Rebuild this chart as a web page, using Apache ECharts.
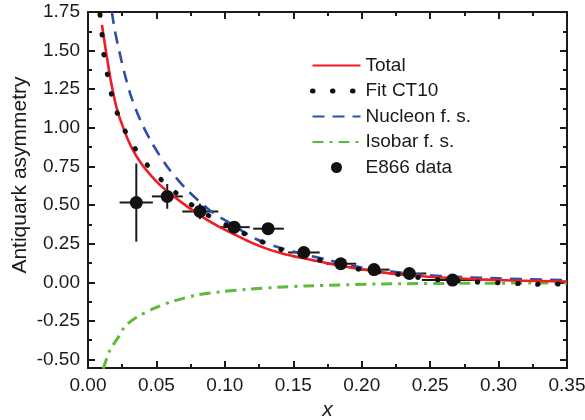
<!DOCTYPE html>
<html>
<head>
<meta charset="utf-8">
<script src="https://cdn.jsdelivr.net/npm/echarts@6/dist/echarts.min.js"></script>
<style>
  html, body { margin: 0; padding: 0; background: #fff; }
  #chart { width: 585px; height: 420px; }
</style>
</head>
<body>
<div id="chart"></div>
<script>
// Total asymmetry (solid red)
const totalX = [0.0102, 0.0122, 0.0141, 0.0170, 0.0207, 0.0255, 0.0316, 0.0389, 0.0487, 0.0574, 0.0696, 0.0818, 0.0940, 0.1061, 0.1182, 0.1304, 0.1426, 0.1547, 0.1669, 0.1888, 0.2131, 0.2374, 0.2618, 0.2861, 0.3104, 0.35];
const totalY = [1.667, 1.548, 1.440, 1.288, 1.136, 1.006, 0.877, 0.769, 0.665, 0.592, 0.509, 0.433, 0.368, 0.314, 0.262, 0.218, 0.185, 0.160, 0.138, 0.100, 0.066, 0.044, 0.029, 0.019, 0.012, 0.005];

// CT10 fit (dotted black)
const ct10X = [0.0088, 0.0102, 0.0114, 0.0138, 0.0166, 0.0206, 0.0262, 0.0341, 0.0443, 0.0575, 0.0713, 0.0850, 0.0988, 0.1134, 0.1267, 0.1413, 0.1560, 0.1720, 0.1966, 0.2239, 0.2509, 0.2788, 0.3000, 0.3200, 0.3336, 0.35];
const ct10Y = [1.732, 1.608, 1.487, 1.363, 1.237, 1.115, 0.995, 0.870, 0.749, 0.631, 0.530, 0.448, 0.381, 0.318, 0.264, 0.212, 0.176, 0.138, 0.087, 0.055, 0.020, 0.005, -0.003, -0.010, -0.013, -0.010];

// Nucleon final state (dashed blue)
const nucleonX = [0.0175, 0.0195, 0.0231, 0.0267, 0.0316, 0.0382, 0.0467, 0.0578, 0.0715, 0.0895, 0.1029, 0.1224, 0.1391, 0.1560, 0.1730, 0.2000, 0.2500, 0.3000, 0.35];
const nucleonY = [1.750, 1.634, 1.487, 1.353, 1.201, 1.050, 0.903, 0.750, 0.606, 0.462, 0.388, 0.282, 0.227, 0.185, 0.150, 0.096, 0.045, 0.025, 0.013];

// Isobar final state (dash-dot green)
const isobarX = [0.0112, 0.0160, 0.0221, 0.0270, 0.0355, 0.0500, 0.0635, 0.0794, 0.0964, 0.1160, 0.1377, 0.1596, 0.2130, 0.2860, 0.35];
const isobarY = [-0.560, -0.440, -0.357, -0.286, -0.227, -0.162, -0.119, -0.083, -0.062, -0.046, -0.033, -0.024, -0.011, -0.006, -0.005];

// E866 measurements
const e866X = [0.0353, 0.0579, 0.0818, 0.1068, 0.1316, 0.1577, 0.1847, 0.2090, 0.2348, 0.2664];
const e866Y = [0.516, 0.556, 0.459, 0.357, 0.347, 0.193, 0.120, 0.082, 0.057, 0.014];
const e866XLow = [0.0231, 0.0467, 0.0689, 0.0956, 0.1207, 0.1462, 0.1740, 0.1985, 0.2204, 0.2440];
const e866XHigh = [0.0474, 0.0693, 0.0952, 0.1182, 0.1431, 0.1693, 0.1960, 0.2204, 0.2472, 0.2880];
const e866YErr = [0.253, 0.080, 0.050, 0.030, 0.020, 0.015, 0.012, 0.010, 0.010, 0.010];

// Axis ticks
const yMajorTicks = [-0.5, -0.25, 0, 0.25, 0.5, 0.75, 1.0, 1.25, 1.5, 1.75];
const yMinorTicks = [-0.375, -0.125, 0.125, 0.375, 0.625, 0.875, 1.125, 1.375, 1.625];

const FONT = 'Liberation Sans, Arial, Helvetica, sans-serif';
const INK = '#1a1a1a';
const zip = (xs, ys) => xs.map((x, i) => [x, ys[i]]);

const chart = echarts.init(document.getElementById('chart'), null, { renderer: 'canvas' });

const frameLine = { show: true, onZero: false, lineStyle: { color: INK, width: 2 } };
const majorTick = { show: true, inside: true, length: 7, lineStyle: { color: INK, width: 2 } };
const minorTick = { show: true, splitNumber: 2, length: 4, lineStyle: { color: INK, width: 2 } };

const yAxisBase = {
  type: 'value', min: -0.555, max: 1.75,
  splitLine: { show: false },
  axisLine: { show: false, onZero: false },
  axisLabel: { show: false },
  axisTick: { show: false }
};

const noSymbol = { opacity: 0 };
const dotStyle = { color: '#111', width: 5, type: [0.5, 19.5], cap: 'round' };

const option = {
  animation: false,
  backgroundColor: '#fff',
  grid: { left: 88, right: 18, top: 12, bottom: 52, outerBoundsMode: 'none', containLabel: false },
  legend: {
    orient: 'vertical',
    left: 305, top: 51,
    itemWidth: 48, itemHeight: 11, itemGap: 6.5,
    textStyle: { fontFamily: FONT, fontSize: 19, color: INK },
    data: [
      { name: 'Total', itemStyle: noSymbol },
      { name: 'Fit CT10', itemStyle: noSymbol, lineStyle: dotStyle },
      { name: 'Nucleon f. s.', itemStyle: noSymbol },
      { name: 'Isobar f. s.', itemStyle: noSymbol },
      { name: 'E866 data', icon: 'circle' }
    ]
  },
  xAxis: [
    {
      type: 'value', min: 0, max: 0.35, interval: 0.05, position: 'bottom',
      name: 'x', nameLocation: 'middle', nameGap: 28,
      nameTextStyle: { fontFamily: FONT, fontSize: 21, fontStyle: 'italic', color: INK },
      splitLine: { show: false },
      axisLine: frameLine, axisTick: majorTick, minorTick: minorTick,
      axisLabel: { fontFamily: FONT, fontSize: 19, color: INK, margin: 8, formatter: v => v.toFixed(2) }
    },
    {
      type: 'value', min: 0, max: 0.35, interval: 0.05, position: 'top',
      splitLine: { show: false },
      axisLine: frameLine, axisTick: majorTick, minorTick: minorTick,
      axisLabel: { show: false }
    }
  ],
  yAxis: [
    Object.assign({}, yAxisBase, {
      position: 'left',
      axisLine: frameLine,
      axisTick: Object.assign({}, majorTick, { customValues: yMajorTicks }),
      axisLabel: { show: true, customValues: yMajorTicks, fontFamily: FONT, fontSize: 19, color: INK, margin: 8, formatter: v => v.toFixed(2) }
    }),
    Object.assign({}, yAxisBase, {
      position: 'left',
      axisTick: { show: true, inside: true, length: 4, customValues: yMinorTicks, lineStyle: { color: INK, width: 2 } }
    }),
    Object.assign({}, yAxisBase, {
      position: 'right',
      axisLine: frameLine,
      axisTick: Object.assign({}, majorTick, { customValues: yMajorTicks })
    }),
    Object.assign({}, yAxisBase, {
      position: 'right',
      axisTick: { show: true, inside: true, length: 4, customValues: yMinorTicks, lineStyle: { color: INK, width: 2 } }
    })
  ],
  graphic: [
    {
      type: 'text', rotation: Math.PI / 2,
      x: 20, y: 175,
      style: {
        text: 'Antiquark asymmetry', fontFamily: FONT, fontSize: 21, fill: INK,
        textAlign: 'center', textVerticalAlign: 'middle'
      }
    }
  ],
  series: [
    {
      // horizontal and vertical error bars of the E866 points
      type: 'custom', name: 'E866 errors', z: 2, silent: true,
      data: e866X.map((x, i) => [x, e866Y[i], e866XLow[i], e866XHigh[i], e866Y[i] - e866YErr[i], e866Y[i] + e866YErr[i]]),
      renderItem: (params, api) => {
        const y = api.value(1), x = api.value(0);
        const a = api.coord([api.value(2), y]), b = api.coord([api.value(3), y]);
        const c = api.coord([x, api.value(4)]), d = api.coord([x, api.value(5)]);
        const st = { stroke: INK, lineWidth: 2 };
        return {
          type: 'group', children: [
            { type: 'line', shape: { x1: a[0], y1: a[1], x2: b[0], y2: b[1] }, style: st },
            { type: 'line', shape: { x1: c[0], y1: c[1], x2: d[0], y2: d[1] }, style: st }
          ]
        };
      }
    },
    {
      type: 'line', name: 'Isobar f. s.', data: zip(isobarX, isobarY), smooth: 0.3,
      symbol: 'none', z: 3, clip: true,
      lineStyle: { color: '#5dbb3a', width: 3, type: [11, 6, 3, 6] },
      itemStyle: { color: '#5dbb3a' }
    },
    {
      type: 'line', name: 'Nucleon f. s.', data: zip(nucleonX, nucleonY), smooth: 0.3,
      symbol: 'none', z: 4, clip: true,
      lineStyle: { color: '#2e4fa8', width: 2.6, type: [12, 8] },
      itemStyle: { color: '#2e4fa8' }
    },
    {
      type: 'line', name: 'Total', data: zip(totalX, totalY), smooth: 0.3,
      symbol: 'none', z: 5, clip: true,
      lineStyle: { color: '#ee1c24', width: 2.6 },
      itemStyle: { color: '#ee1c24' }
    },
    {
      type: 'line', name: 'Fit CT10', data: zip(ct10X, ct10Y), smooth: 0.3,
      symbol: 'none', z: 6, clip: true,
      lineStyle: dotStyle,
      itemStyle: { color: '#111' }
    },
    {
      type: 'scatter', name: 'E866 data', data: zip(e866X, e866Y),
      symbol: 'circle', symbolSize: 13, z: 7,
      itemStyle: { color: '#111', opacity: 1 }
    }
  ]
};

chart.setOption(option);
</script>
</body>
</html>
